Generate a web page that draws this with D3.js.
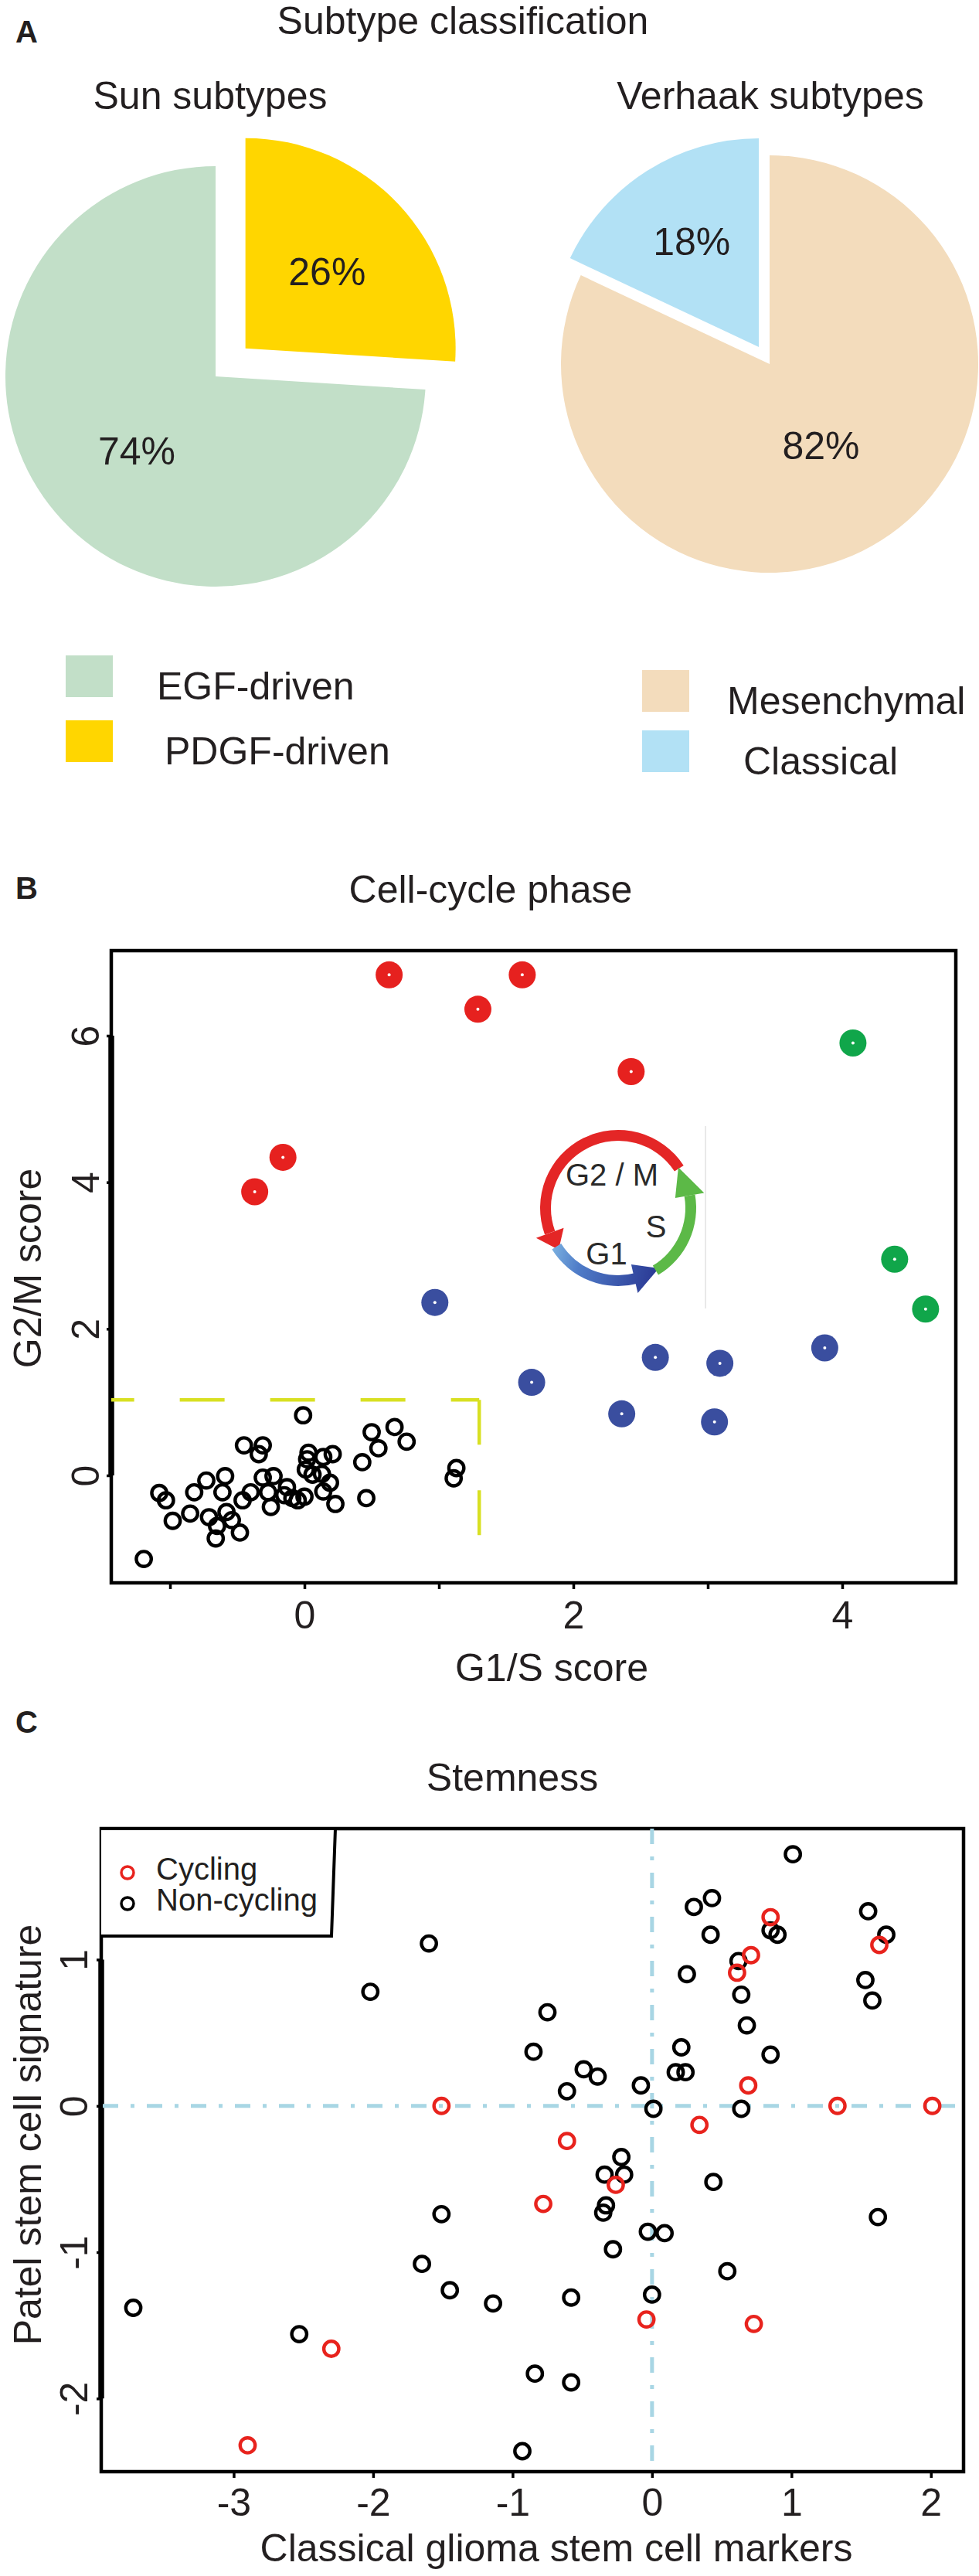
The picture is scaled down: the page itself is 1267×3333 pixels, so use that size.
<!DOCTYPE html>
<html>
<head>
<meta charset="utf-8">
<script src="https://cdn.jsdelivr.net/npm/d3@7"></script>
<style>
  body { margin: 0; background: #fff; }
  text { font-family: "Liberation Sans", Arial, sans-serif; fill: #231f20; }
</style>
</head>
<body>
<svg id="fig"></svg>
<script>
// ---- panel A: subtype shares (%)
const sunLabels = ['PDGF-driven', 'EGF-driven'];
const sunValues = [26, 74];
const verhaakLabels = ['Mesenchymal', 'Classical'];
const verhaakValues = [82, 18];

// ---- panel B: cell-cycle scores (G1/S, G2/M)
const g2mX = [0.63, 1.62, 1.29, 2.43, -0.16, -0.37];
const g2mY = [6.83, 6.83, 6.36, 5.51, 4.34, 3.87];
const bothX = [4.08, 4.39, 4.62];
const bothY = [5.90, 2.95, 2.27];
const g1sX = [0.97, 1.69, 2.61, 3.09, 3.87, 2.36, 3.05];
const g1sY = [2.36, 1.27, 1.61, 1.53, 1.74, 0.84, 0.73];
const restX = [-1.195, -1.08, -1.03, -0.98, -0.85, -0.82, -0.73, -0.59, -0.61, -0.71,
  -0.65, -0.66, -0.58, -0.54, -0.48, -0.45, -0.31, -0.34, -0.46, -0.40,
  -0.31, -0.23, -0.27, -0.25, -0.13, -0.15, -0.09, -0.05, 0.0, -0.01,
  0.03, 0.02, 0.14, 0.21, 0.01, 0.06, 0.13, 0.19, 0.14, 0.23,
  0.43, 0.46, 0.50, 0.55, 0.67, 0.76, 1.13, 1.11];
const restY = [-1.14, -0.24, -0.34, -0.62, -0.52, -0.23, -0.07, -0.01, -0.23, -0.57,
  -0.69, -0.86, -0.50, -0.61, -0.78, 0.41, 0.41, 0.29, -0.34, -0.23,
  -0.03, -0.01, -0.23, -0.43, -0.16, -0.27, -0.31, -0.34, -0.29, 0.82,
  0.31, 0.22, 0.25, 0.29, 0.08, 0.01, 0.02, -0.10, -0.22, -0.39,
  0.18, -0.31, 0.59, 0.37, 0.66, 0.46, 0.10, -0.04];
const gateX = [-1.6, 1.30];
const gateY = [-0.915, 1.03];
const bXTicks = [-1, 0, 1, 2, 3, 4];
const bYTicks = [0, 2, 4, 6];

// ---- panel C: stemness scores
const cyclingX = [0.85, 1.63, 0.71, 0.61, 0.69, -1.51, 1.33, 2.01, 0.34, -0.61, -0.26, -0.78, -0.04, 0.73, -2.30, -2.90];
const cyclingY = [1.29, 1.10, 1.03, 0.91, 0.14, 0.0, 0.0, 0.0, -0.13, -0.24, -0.54, -0.67, -1.46, -1.49, -1.66, -2.32];
const nonCyclingX = [1.01, 0.43, 0.30, 0.42, 1.55, 1.68, 0.85, 0.90, -1.60, 0.62,
  0.25, 1.53, 1.58, -2.02, 0.64, -0.75, 0.68, -0.85, 0.21, 0.85,
  -0.49, -0.39, 0.17, 0.24, -0.61, -0.08, 0.01, 0.64, -0.22, -0.34,
  -0.20, 0.44, -0.33, -0.35, -1.51, 1.62, -0.03, 0.09, -0.28, -1.65,
  0.54, -1.45, -1.14, -0.58, 0.0, -3.72, -2.53, -0.84, -0.58, -0.93];
const nonCyclingY = [1.72, 1.42, 1.36, 1.17, 1.33, 1.17, 1.20, 1.17, 1.11, 0.99,
  0.90, 0.86, 0.72, 0.78, 0.76, 0.64, 0.55, 0.37, 0.40, 0.35,
  0.25, 0.20, 0.23, 0.23, 0.10, 0.14, -0.02, -0.02, -0.35, -0.47,
  -0.47, -0.52, -0.68, -0.73, -0.74, -0.76, -0.86, -0.87, -0.98, -1.08,
  -1.13, -1.26, -1.35, -1.31, -1.29, -1.38, -1.56, -1.83, -1.89, -2.36];
const cXTicks = [-3, -2, -1, 0, 1, 2];
const cYTicks = [-2, -1, 0, 1];

const FS = 50;
const svg = d3.select('#fig').attr('width', 1267).attr('height', 3333);

function label(x, y, txt, size, opts) {
    opts = opts || {};
    return svg.append('text')
        .attr('x', x).attr('y', y)
        .attr('text-anchor', opts.anchor || 'start')
        .attr('font-weight', opts.bold ? 'bold' : null)
        .style('font-size', size + 'px')
        .text(txt);
}

// ================= A =================
label(20, 55, 'A', 40, {bold: true});
label(599, 44, 'Subtype classification', FS, {anchor: 'middle'});
label(272, 141, 'Sun subtypes', FS, {anchor: 'middle'});
label(997, 141, 'Verhaak subtypes', FS, {anchor: 'middle'});

function drawPie(cfg) {
    const data = cfg.values.map((v, i) => ({label: cfg.labels[i], value: v, i: i}));
    const pie = d3.pie().sort(null).value(d => d.value);
    const arc = d3.arc().innerRadius(0).outerRadius(cfg.r);
    const g = svg.append('g').attr('transform', `translate(${cfg.cx},${cfg.cy})`);
    pie(data).forEach(d => {
        const mid = (d.startAngle + d.endAngle) / 2;
        const off = cfg.explode[d.index];
        const ox = off * Math.sin(mid), oy = -off * Math.cos(mid);
        const s = g.append('g').attr('transform', `translate(${ox},${oy})`);
        s.append('path').attr('d', arc(d)).attr('fill', cfg.colors[d.index]);
        const lr = cfg.labelR[d.index];
        s.append('text')
            .attr('x', lr * Math.sin(mid)).attr('y', -lr * Math.cos(mid))
            .attr('dy', '0.36em')
            .attr('text-anchor', 'middle')
            .style('font-size', FS + 'px')
            .text(d.value + '%');
    });
}

const sunColors = ['#ffd600', '#c2dfc8'];
const verhaakColors = ['#f3dcbc', '#b2e1f5'];

drawPie({cx: 279, cy: 487, r: 272, labels: sunLabels, values: sunValues,
    colors: sunColors, explode: [53, 0], labelR: [145, 140]});
drawPie({cx: 996, cy: 471, r: 270, labels: verhaakLabels, values: verhaakValues,
    colors: verhaakColors, explode: [0, 26], labelR: [124, 162]});

// legends
function legendItem(x, y, color, txt, tx) {
    svg.append('rect').attr('x', x).attr('y', y).attr('width', 61).attr('height', 54).attr('fill', color);
    label(tx, y + 57, txt, FS);
}
legendItem(85, 848, sunColors[1], sunLabels[1], 203);
legendItem(85, 932, sunColors[0], sunLabels[0], 213);
legendItem(831, 867, verhaakColors[0], verhaakLabels[0], 941);
legendItem(831, 945, verhaakColors[1], verhaakLabels[1], 962);

// ================= shared scatter helpers =================
function frame(x, y, cfg) {
    const [x0, x1] = x.range(), [y0, y1] = y.range();
    svg.append('rect')
        .attr('x', x0).attr('y', y1).attr('width', x1 - x0).attr('height', y0 - y1)
        .attr('fill', 'none').attr('stroke', '#000').attr('stroke-width', 4.5);

    svg.append('g').attr('transform', `translate(0,${y0})`)
        .call(d3.axisBottom(x).tickValues(cfg.xTicks).tickSize(8).tickSizeOuter(0)
            .tickFormat(d => cfg.xShow(d) ? String(d) : ''))
        .call(g => g.select('.domain').remove())
        .call(g => g.selectAll('line').attr('stroke', '#000').attr('stroke-width', 3.5))
        .call(g => g.selectAll('text').attr('y', cfg.xLabelDy).attr('dy', 0)
            .style('font-size', FS + 'px'));

    svg.append('g').attr('transform', `translate(${x0},0)`)
        .call(d3.axisLeft(y).tickValues(cfg.yTicks).tickSize(6).tickSizeOuter(0)
            .tickFormat(d => String(d)))
        .call(g => g.select('.domain').remove())
        .call(g => g.selectAll('line').attr('stroke', '#000').attr('stroke-width', 3.5))
        .call(g => g.selectAll('text')
            .attr('transform', 'rotate(-90)')
            .attr('x', 0).attr('y', -cfg.yLabelDx).attr('dy', 0)
            .attr('text-anchor', 'middle')
            .style('font-size', FS + 'px'));

    // thick R-style axis line between the outer ticks
    const yt = d3.extent(cfg.yTicks);
    svg.append('line')
        .attr('x1', x0).attr('x2', x0)
        .attr('y1', y(yt[0])).attr('y2', y(yt[1]))
        .attr('stroke', '#000').attr('stroke-width', 7.5);

    svg.append('clipPath').attr('id', cfg.id + '-clip')
        .append('rect').attr('x', x0).attr('y', y1).attr('width', x1 - x0).attr('height', y0 - y1);
}

function rings(x, y, xs, ys, color, clip) {
    svg.append('g').attr('clip-path', `url(#${clip}-clip)`)
        .selectAll('circle')
        .data(xs.map((v, i) => [v, ys[i]]))
        .join('circle')
        .attr('cx', d => x(d[0])).attr('cy', d => y(d[1]))
        .attr('r', 9.7)
        .attr('fill', 'none').attr('stroke', color).attr('stroke-width', 4.4);
}

function dots(x, y, xs, ys, color) {
    const g = svg.append('g');
    const pts = xs.map((v, i) => [v, ys[i]]);
    g.selectAll('circle.dot').data(pts).join('circle').attr('class', 'dot')
        .attr('cx', d => x(d[0])).attr('cy', d => y(d[1])).attr('r', 17.5)
        .attr('fill', color);
    g.selectAll('circle.hole').data(pts).join('circle').attr('class', 'hole')
        .attr('cx', d => x(d[0])).attr('cy', d => y(d[1])).attr('r', 2)
        .attr('fill', '#fff');
}

// ================= B =================
label(20, 1163, 'B', 40, {bold: true});
label(635, 1168, 'Cell-cycle phase', FS, {anchor: 'middle'});

const xB = d3.scaleLinear().domain([-1.437, 4.845]).range([144, 1237]);
const yB = d3.scaleLinear().domain([-1.466, 7.16]).range([2048, 1230]);

frame(xB, yB, {id: 'b', xTicks: bXTicks, yTicks: bYTicks, xShow: d => d % 2 === 0,
    xLabelDy: 59, yLabelDx: 16});

// gate around non-cycling cells
const gate = svg.append('g').attr('clip-path', 'url(#b-clip)')
    .attr('fill', 'none').attr('stroke', '#d8e022').attr('stroke-width', 4.5)
    .attr('stroke-dasharray', '58,59');
gate.append('line')
    .attr('x1', xB(gateX[0])).attr('x2', xB(gateX[1]))
    .attr('y1', yB(gateY[1])).attr('y2', yB(gateY[1]));
gate.append('line')
    .attr('x1', xB(gateX[1])).attr('x2', xB(gateX[1]))
    .attr('y1', yB(gateY[1])).attr('y2', yB(gateY[0]));

rings(xB, yB, restX, restY, '#000', 'b');
dots(xB, yB, g2mX, g2mY, '#e6211f');
dots(xB, yB, g1sX, g1sY, '#3a4e9f');
dots(xB, yB, bothX, bothY, '#10a64a');

label(714, 2175, 'G1/S score', FS, {anchor: 'middle'});
svg.append('text')
    .attr('transform', 'translate(53,1641) rotate(-90)')
    .attr('text-anchor', 'middle').style('font-size', FS + 'px')
    .text('G2/M score');

// cell-cycle icon (drawn in local coordinates around its centre)
(function cycleIcon() {
    const cx = 800, cy = 1563, r = 94, w = 14, hw = 19;
    const rad = a => a * Math.PI / 180;
    const polar = (a, rr) => [rr * Math.sin(rad(a)), -rr * Math.cos(rad(a))];
    const grad = svg.append('defs').append('linearGradient').attr('id', 'g1grad')
        .attr('gradientUnits', 'userSpaceOnUse')
        .attr('x1', -88).attr('y1', 47).attr('x2', 50).attr('y2', 82);
    grad.append('stop').attr('offset', 0).attr('stop-color', '#7fb5e2');
    grad.append('stop').attr('offset', 0.3).attr('stop-color', '#4f7cc8');
    grad.append('stop').attr('offset', 1).attr('stop-color', '#2b3a95');

    const g = svg.append('g').attr('transform', `translate(${cx},${cy})`);
    const band = d3.arc().innerRadius(r - w / 2).outerRadius(r + w / 2);
    const segs = [
        {a0: -110, a1: 57, fill: '#e42626', tipBase: -110, tip: -125},
        {a0: 165, a1: 238, fill: 'url(#g1grad)', tipBase: 167, tip: 146},
        {a0: 80, a1: 149, fill: '#5cb947', tipBase: 80, tip: 56}
    ];
    segs.forEach(s => {
        g.append('path')
            .attr('d', band({startAngle: rad(s.a0), endAngle: rad(s.a1)}))
            .attr('fill', s.fill);
        const pts = [polar(s.tipBase, r - hw), polar(s.tipBase, r + hw), polar(s.tip, r)];
        g.append('path').attr('d', d3.line()(pts) + 'Z').attr('fill', s.fill);
    });
    g.append('line').attr('x1', 113).attr('x2', 113).attr('y1', -106).attr('y2', 130)
        .attr('stroke', '#e2e2e2').attr('stroke-width', 1.5);
    [['G2 / M', -8, -43], ['S', 49, 24], ['G1', -15, 59]].forEach(t => {
        g.append('text').attr('x', t[1]).attr('y', t[2]).attr('dy', '0.36em')
            .attr('text-anchor', 'middle').style('font-size', '40px')
            .style('fill', '#2a2a2a').text(t[0]);
    });
})();

// ================= C =================
label(20, 2242, 'C', 40, {bold: true});
label(663, 2317, 'Stemness', FS, {anchor: 'middle'});

const xC = d3.scaleLinear().domain([-3.95, 2.234]).range([131, 1247]);
const yC = d3.scaleLinear().domain([-2.50, 1.895]).range([3198, 2366]);

frame(xC, yC, {id: 'c', xTicks: cXTicks, yTicks: cYTicks, xShow: () => true,
    xLabelDy: 57, yLabelDx: 18});

const ref = svg.append('g').attr('stroke', '#a8d6e4').attr('stroke-width', 5)
    .attr('stroke-dasharray', '20,16,5,16');
ref.append('line').attr('x1', xC.range()[0] + 2).attr('x2', xC.range()[1])
    .attr('y1', yC(0)).attr('y2', yC(0));
ref.append('line').attr('x1', xC(0)).attr('x2', xC(0))
    .attr('y1', yC.range()[1]).attr('y2', yC.range()[0]);

rings(xC, yC, nonCyclingX, nonCyclingY, '#000', 'c');
rings(xC, yC, cyclingX, cyclingY, '#e8231d', 'c');

// legend box
svg.append('path').attr('d', 'M131,2366 L434,2366 L429,2505 L131,2505')
    .attr('fill', '#fff').attr('stroke', '#000').attr('stroke-width', 4);
[['Cycling', '#e8231d', 2423], ['Non-cycling', '#000', 2463]].forEach(l => {
    svg.append('circle').attr('cx', 165).attr('cy', l[2]).attr('r', 8)
        .attr('fill', 'none').attr('stroke', l[1]).attr('stroke-width', 3.5);
    label(202, l[2] + 9, l[0], 40);
});

label(720, 3314, 'Classical glioma stem cell markers', FS, {anchor: 'middle'});
svg.append('text')
    .attr('transform', 'translate(53,2762) rotate(-90)')
    .attr('text-anchor', 'middle').style('font-size', FS + 'px')
    .text('Patel stem cell signature');
</script>
</body>
</html>
